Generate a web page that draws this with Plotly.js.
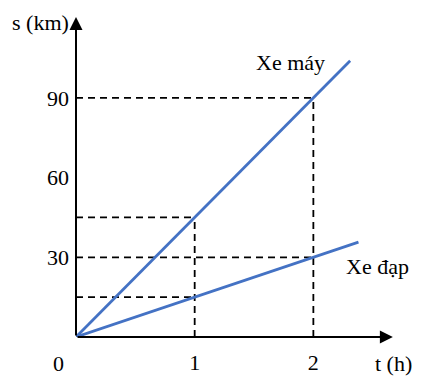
<!DOCTYPE html>
<html>
<head>
<meta charset="utf-8">
<script src="https://cdn.plot.ly/plotly-3.0.1.min.js"></script>
<style>html,body{margin:0;padding:0;background:#fff;}#chart{width:429px;height:382px;}
#fontwarm{position:absolute;left:200px;top:300px;z-index:-1;font-family:"Liberation Serif";font-size:22px;color:#fff;pointer-events:none;}</style>
</head>
<body>
<span id="fontwarm">Xe</span>
<div id="chart"></div>
<script>
// Data
var motoT = [0, 1, 2, 2.31];
var motoS = [0, 45, 90, 104];
var bikeT = [0, 1, 2, 2.38];
var bikeS = [0, 15, 30, 35.7];
var motoName = "Xe máy";
var bikeName = "Xe đạp";
var xTickVals = [1, 2];
var xTickText = ["1", "2"];
var yTickVals = [30, 60, 90];
var yTickText = ["30", "60", "90"];
var xTitle = "t (h)";
var yTitle = "s (km)";
var originLabel = "0";

var FONT = "Liberation Serif";
var FS = 22;
var blue = "#4472C4";
function tf() { return {family: FONT, size: FS, color: "#000"}; }

var traces = [
  {x: motoT, y: motoS, mode: "lines", line: {color: blue, width: 2.8}, cliponaxis: false, hoverinfo: "skip"},
  {x: bikeT, y: bikeS, mode: "lines", line: {color: blue, width: 2.8}, cliponaxis: false, hoverinfo: "skip"}
];

// dashed guide lines at t = 1 and t = 2, built from the series values
var shapes = [];
function guide(t, s) {
  shapes.push({type: "line", xref: "x", yref: "y", x0: 0, x1: t, y0: s, y1: s,
    line: {color: "#000", width: 1.8, dash: "7px,5px"}, layer: "below"});
}
[1, 2].forEach(function (t) {
  var mi = motoT.indexOf(t), bi = bikeT.indexOf(t);
  guide(t, motoS[mi]);
  guide(t, bikeS[bi]);
  shapes.push({type: "line", xref: "x", yref: "y", x0: t, x1: t, y0: 0, y1: Math.max(motoS[mi], bikeS[bi]),
    line: {color: "#000", width: 1.8, dash: "7px,5px"}, layer: "below"});
});

var xMax = 2.73, yMax = 123.1;
var annotations = [
  // axes with arrowheads
  {x: 2.67, y: 0, ax: 0, ay: 0, xref: "x", yref: "y", axref: "x", ayref: "y", text: "",
   showarrow: true, arrowhead: 2, arrowsize: 1.3, arrowwidth: 2, arrowcolor: "#000", standoff: 0},
  {x: 0, y: 120.5, ax: 0, ay: 0, xref: "x", yref: "y", axref: "x", ayref: "y", text: "",
   showarrow: true, arrowhead: 2, arrowsize: 1.3, arrowwidth: 2, arrowcolor: "#000", standoff: 0},
  {x: 0, y: 0, xref: "x", yref: "y", text: originLabel, showarrow: false, xshift: -18, yshift: -26, font: tf()},
  {x: 1, y: 0, xref: "paper", yref: "y", text: xTitle, showarrow: false, xanchor: "right", yshift: -26,
   xshift: 14, font: tf()},
  {x: 0, y: 1, xref: "paper", yref: "paper", text: yTitle, showarrow: false, xanchor: "right", yanchor: "middle",
   xshift: -5, yshift: -12, font: tf()},
  {x: 1.81, y: 103.2, xref: "x", yref: "y", text: motoName, showarrow: false, font: tf()},
  {x: 2.54, y: 26.4, xref: "x", yref: "y", text: bikeName, showarrow: false, font: tf()}
];

var layout = {
  width: 429, height: 382,
  margin: {l: 76, r: 429 - 76 - Math.round(2.73 * 118.7), t: 10, b: 45, pad: 0},
  paper_bgcolor: "#fff", plot_bgcolor: "#fff",
  showlegend: false,
  font: tf(),
  xaxis: {range: [0, xMax], showgrid: false, zeroline: false, showline: false,
    tickvals: xTickVals, ticktext: xTickText, ticks: "", ticklabelstandoff: 10,
    tickfont: tf(), fixedrange: true},
  yaxis: {range: [0, yMax], showgrid: false, zeroline: false, showline: false,
    tickvals: yTickVals, ticktext: yTickText, ticks: "", ticklabelstandoff: 6,
    tickfont: tf(), fixedrange: true},
  shapes: shapes,
  annotations: annotations
};

function draw() { return Plotly.newPlot("chart", traces, layout, {displayModeBar: false}); }
draw().then(function () {
  document.getElementById("fontwarm").textContent = "Xe ";
  if (document.fonts && document.fonts.load) {
    document.fonts.load(FS + 'px "' + FONT + '"').then(function () { draw(); });
  }
});
</script>
</body>
</html>
